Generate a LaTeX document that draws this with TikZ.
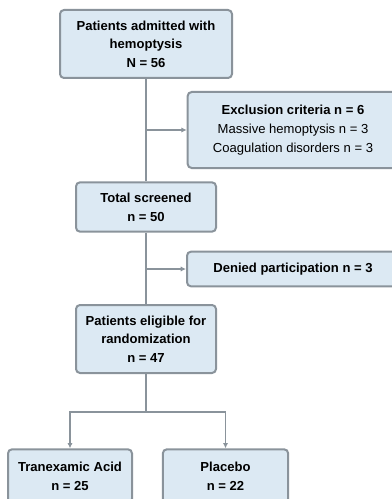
\documentclass[tikz,border=0pt]{standalone}
\usepackage{fontspec}
\setmainfont{Liberation Sans}
\usetikzlibrary{arrows.meta}
\definecolor{boxfill}{HTML}{DCE9F3}
\definecolor{boxline}{HTML}{8A939B}
\tikzset{
  flowbox/.style={draw=boxline, fill=boxfill, line width=1.5pt, rounded corners=3pt,
    align=center, inner sep=2pt, font=\fontsize{9.8}{14}\selectfont\bfseries},
  flowline/.style={draw=boxline, line width=1.4pt},
  flowarrow/.style={flowline, -{Latex[length=4pt,width=4pt]}}
}
\begin{document}
\begin{tikzpicture}[x=0.75pt,y=-0.75pt]
\useasboundingbox (0,0) rectangle (392,499);
\node[flowbox, minimum width=129pt, minimum height=51pt] (adm) at (146,44)
  {Patients admitted with\\hemoptysis\\N = 56};
\node[flowbox, minimum width=158pt, minimum height=57pt] (excl) at (293,130)
  {Exclusion criteria n = 6\\\mdseries Massive hemoptysis n = 3\\\mdseries Coagulation disorders n = 3};
\node[flowbox, minimum width=105pt, minimum height=37pt] (scr) at (146,207)
  {Total screened\\n = 50};
\node[flowbox, minimum width=159pt, minimum height=26pt] (den) at (293,269)
  {Denied participation n = 3};
\node[flowbox, minimum width=105pt, minimum height=51pt] (rnd) at (146,339)
  {Patients eligible for\\randomization\\n = 47};
\node[flowbox, minimum width=93pt, minimum height=40pt] (txa) at (70,476)
  {Tranexamic Acid\\n = 25};
\node[flowbox, minimum width=94pt, minimum height=40pt] (plc) at (225.5,476)
  {Placebo\\n = 22};
% main column
\draw[flowline] (adm.south) -- (scr.north);
\draw[flowarrow] (scr.north |- excl.west) -- (excl.west);
\draw[flowline] (scr.south) -- (rnd.north);
\draw[flowarrow] (rnd.north |- den.west) -- (den.west);
% split into the two arms
\coordinate (fork) at (146,412);
\draw[flowline] (rnd.south) -- (fork);
\draw[flowarrow] (fork) -| (txa.north);
\draw[flowarrow] (fork) -| (plc.north);
\end{tikzpicture}
\end{document}
